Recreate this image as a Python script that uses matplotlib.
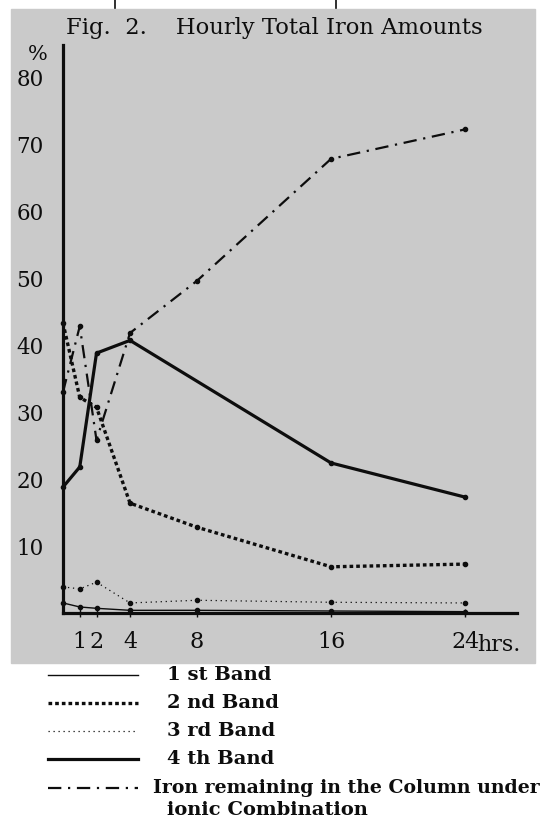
import matplotlib.pyplot as plt
from matplotlib.lines import Line2D
from matplotlib.patches import Rectangle

# Data
hours = [0, 1, 2, 4, 8, 16, 24]
band1 = [1.5, 0.9, 0.7, 0.4, 0.4, 0.3, 0.2]
band2 = [43.3, 32.2, 30.7, 16.4, 12.8, 6.9, 7.3]
band3 = [3.9, 3.6, 4.6, 1.5, 1.9, 1.6, 1.5]
hours_band4 = [0, 1, 2, 4, 16, 24]
band4 = [18.8, 21.8, 38.8, 40.7, 22.4, 17.3]
iron_column = [33.0, 42.8, 25.8, 41.8, 49.6, 67.8, 72.2]

x_ticks = [1, 2, 4, 8, 16, 24]
y_ticks = [10, 20, 30, 40, 50, 60, 70, 80]
labels = ['1 st Band', '2 nd Band', '3 rd Band', '4 th Band',
          'Iron remaining in the Column under']

W, H = 549, 818
ink = '#0d0d0d'
styles = [
    dict(lw=1.0, ls='-'),
    dict(lw=2.4, ls=(0, (1.1, 0.9))),
    dict(lw=0.9, ls=(0, (1, 3))),
    dict(lw=2.3, ls='-'),
    dict(lw=1.6, ls=(0, (6, 3, 1, 3))),
]

fig = plt.figure(figsize=(W / 100, H / 100), dpi=100)
fig.patch.set_facecolor('white')

# scanned page area
fig.add_artist(Rectangle((11 / W, 1 - 663 / H), 524 / W, 654 / H,
                         transform=fig.transFigure, color='#cacaca', zorder=0))
for px in (115, 336):
    fig.add_artist(Line2D([px / W, px / W], [1, 1 - 8 / H],
                          transform=fig.transFigure, color=ink, lw=1.2))

ax = fig.add_axes([63 / W, 1 - 613 / H, 454 / W, 568 / H])
ax.set_facecolor('none')

series = [(hours, band1), (hours, band2), (hours, band3),
          (hours_band4, band4), (hours, iron_column)]
for (xs, ys), st in zip(series, styles):
    ax.plot(xs, ys, color=ink, marker='o', ms=3, clip_on=False, **st)

ax.set_xlim(0, 27.1)
ax.set_ylim(0, 84.8)
for s in ('top', 'right'):
    ax.spines[s].set_visible(False)
for s in ('left', 'bottom'):
    ax.spines[s].set_linewidth(2.3)
    ax.spines[s].set_color(ink)

ax.set_xticks(x_ticks)
ax.set_yticks(y_ticks)
ax.tick_params(axis='x', direction='inout', length=6, width=1, pad=10,
               labelsize=16, colors=ink)
ax.tick_params(axis='y', length=0, pad=14, labelsize=15.5, colors=ink)
for t in ax.get_xticklabels() + ax.get_yticklabels():
    t.set_family('DejaVu Serif')

ax.text(24.75, -3.1, 'hrs.', family='DejaVu Serif', fontsize=16,
        color=ink, ha='left', va='top')
fig.text(38 / W, 1 - 54 / H, '%', family='DejaVu Serif', fontsize=15,
         color=ink, ha='center', va='center')
fig.text(66 / W, 1 - 28 / H, 'Fig.  2.    Hourly Total Iron Amounts',
         family='DejaVu Serif', fontsize=16.3, color=ink,
         ha='left', va='center')

# legend below the page
rows = [675, 703, 731, 759, 788]
for y, st, lab in zip(rows, styles, labels):
    fig.add_artist(Line2D([48 / W, 138 / W], [1 - y / H, 1 - y / H],
                          transform=fig.transFigure, color=ink, **st))
    x0 = 153 if lab.startswith('Iron') else 167
    fs = 13.6 if lab.startswith('Iron') else 14
    fig.text(x0 / W, 1 - y / H, lab, family='DejaVu Serif',
             weight='bold', fontsize=fs, color=ink, ha='left', va='center')
fig.text(167 / W, 1 - 810 / H, 'ionic Combination', family='DejaVu Serif',
         weight='bold', fontsize=14, color=ink, ha='left', va='center')

fig.savefig('out.png', dpi=100)
